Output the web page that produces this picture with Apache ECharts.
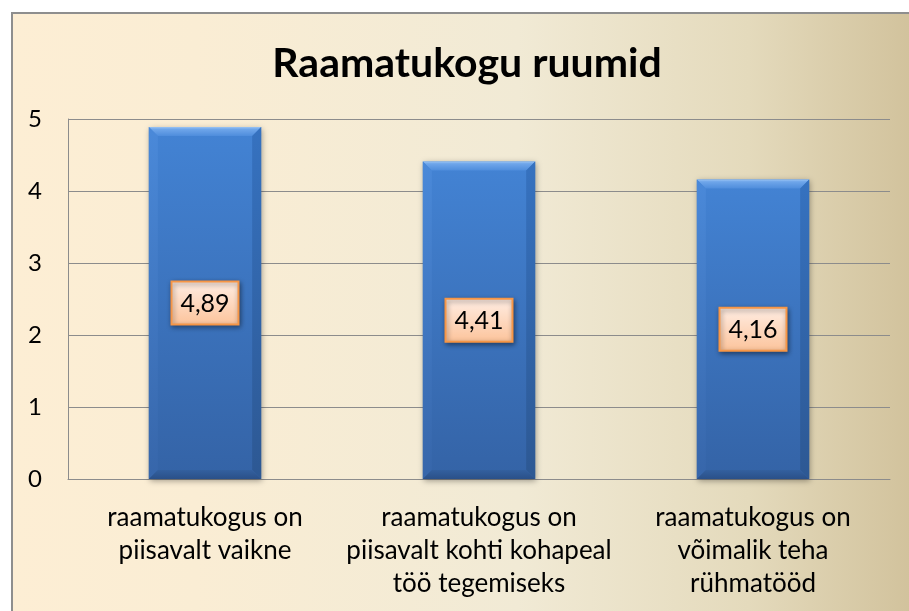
<!DOCTYPE html>
<html>
<head>
<meta charset="utf-8">
<script src="https://cdn.jsdelivr.net/npm/echarts@6/dist/echarts.min.js"></script>
<style>
html,body{margin:0;padding:0;background:#fff;}
#chart{width:909px;height:611px;}
</style>
</head>
<body>
<div id="chart"></div>
<script>
const titleText = 'Raamatukogu ruumid';
const categories = [
  'raamatukogus on\npiisavalt vaikne',
  'raamatukogus on\npiisavalt kohti kohapeal\ntöö tegemiseks',
  'raamatukogus on\nvõimalik teha\nrühmatööd'
];
const values = [4.89, 4.41, 4.16];
const valueLabels = ['4,89', '4,41', '4,16'];
const yTicks = [0, 1, 2, 3, 4, 5];

const FONT = 'Lato, "Open Sans", sans-serif';
const chart = echarts.init(document.getElementById('chart'), null, {renderer: 'canvas'});

function lg(x2, y2, stops) {
  return new echarts.graphic.LinearGradient(0, 0, x2, y2, stops.map((c) => ({offset: c[0], color: c[1]})));
}

function renderBar(params, api) {
  const idx = api.value(0);
  const v = api.value(1);
  const top = api.coord([idx, v]);
  const base = api.coord([idx, 0]);
  const bw = api.size([1, 0])[0] * 0.41;
  const x = top[0] - bw / 2, y = top[1], h = base[1] - top[1];
  const b = 9;
  const cx = top[0], cy = y + h / 2;
  const bxW = 67, bxH = 43;
  return {
    type: 'group',
    children: [
      {type: 'rect', shape: {x: x, y: y, width: bw, height: h},
        style: {fill: lg(0, 1, [[0, '#4383D4'], [1, '#3463A6']]), shadowBlur: 6, shadowColor: 'rgba(0,0,0,0.35)', shadowOffsetX: 1, shadowOffsetY: 2}},
      {type: 'polygon', shape: {points: [[x, y], [x + bw, y], [x + bw - b, y + b], [x + b, y + b]]},
        style: {fill: lg(0, 1, [[0, '#9CC5F4'], [0.25, '#6FA6EA'], [1, '#4F8DDC']])}},
      {type: 'polygon', shape: {points: [[x, y], [x + b, y + b], [x + b, y + h - b], [x, y + h]]},
        style: {fill: lg(0, 1, [[0, '#4B8ADA'], [1, '#3766AA']]), opacity: 0.9}},
      {type: 'polygon', shape: {points: [[x + bw, y], [x + bw, y + h], [x + bw - b, y + h - b], [x + bw - b, y + b]]},
        style: {fill: lg(0, 1, [[0, '#3672C0'], [1, '#2D5893']])}},
      {type: 'polygon', shape: {points: [[x, y + h], [x + b, y + h - b], [x + bw - b, y + h - b], [x + bw, y + h]]},
        style: {fill: lg(0, 1, [[0, '#33609F'], [1, '#2A5088']])}},
      {type: 'rect', shape: {x: cx - bxW / 2, y: cy - bxH / 2, width: bxW, height: bxH},
        style: {fill: lg(0, 1, [[0, '#FFEEE5'], [1, '#FCC39A']]), stroke: '#F79646', lineWidth: 2,
          shadowBlur: 5, shadowColor: 'rgba(0,0,0,0.45)', shadowOffsetX: 1, shadowOffsetY: 2}},
      {type: 'text', x: cx, y: cy + 1,
        style: {text: valueLabels[params.dataIndex], fill: '#000', font: '25px ' + FONT, align: 'center', verticalAlign: 'middle'}}
    ]
  };
}

const option = {
  animation: false,
  graphic: [
    {type: 'rect', z: -10, silent: true, shape: {x: 12, y: 13, width: 920, height: 620},
      style: {fill: lg(1, 0, [[0, '#FDEED4'], [0.2, '#FAEDD4'], [0.55, '#F1EAD5'], [0.8, '#E4DABC'], [1, '#CFBF98']]),
        stroke: '#8E8E8E', lineWidth: 2}},
    {type: 'text', x: 467, y: 64, z: 10,
      style: {text: titleText, font: 'bold 41px ' + FONT, fill: '#000', align: 'center', verticalAlign: 'middle'}}
  ],
  grid: {left: 68, right: 19, top: 119, bottom: 132},
  xAxis: {
    type: 'category',
    data: categories,
    axisLine: {show: true, lineStyle: {color: '#8C8C8C', width: 1}},
    axisTick: {show: false},
    axisLabel: {interval: 0, margin: 22, color: '#000', fontSize: 26, lineHeight: 33, fontFamily: FONT}
  },
  yAxis: {
    type: 'value',
    min: 0, max: 5, interval: 1,
    axisLine: {show: true, lineStyle: {color: '#8C8C8C', width: 1}},
    axisTick: {show: false},
    splitLine: {show: true, lineStyle: {color: '#8C8C8C', width: 1}},
    axisLabel: {margin: 26, color: '#000', fontSize: 24, fontFamily: FONT,
      formatter: v => (yTicks.includes(v) ? String(v) : '')}
  },
  series: [{
    type: 'custom',
    renderItem: renderBar,
    data: values.map((v, i) => [i, v]),
    encode: {x: 0, y: 1}
  }]
};
chart.setOption(option);
</script>
</body>
</html>
